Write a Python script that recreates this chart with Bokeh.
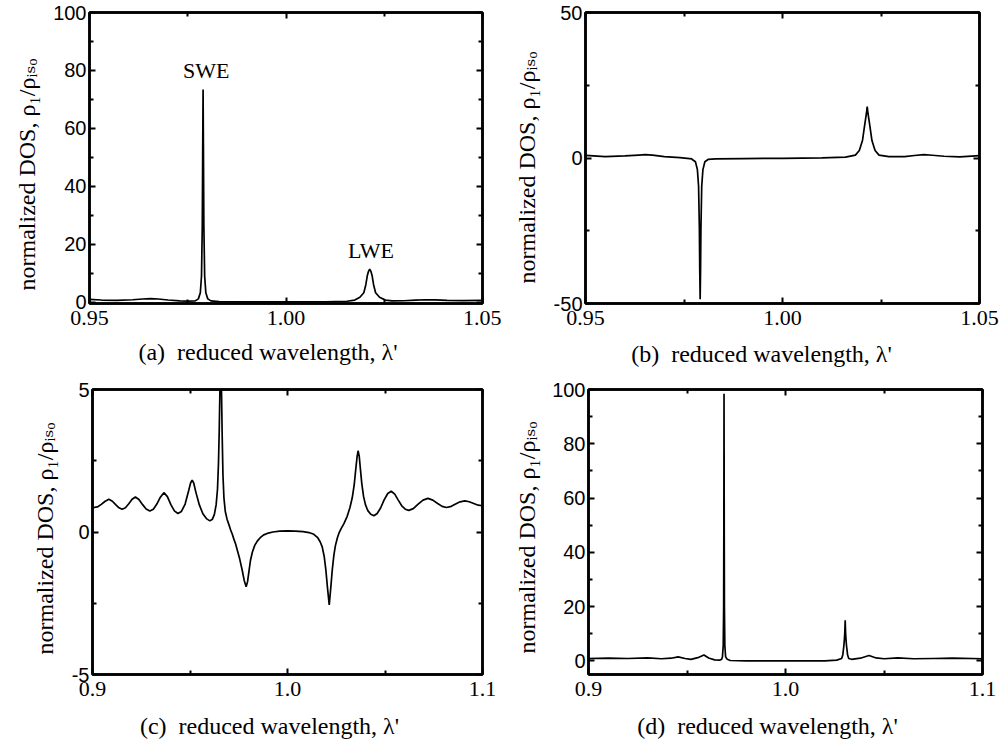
from bokeh.plotting import figure
from bokeh.layouts import column, row
from bokeh.models import Label, LinearAxis, FixedTicker, Range1d, NumeralTickFormatter, CustomJSTickFormatter, Title
from bokeh.embed import file_html
from bokeh.resources import INLINE

# ---------------- data ----------------
a_x = [0.950, 0.953, 0.957, 0.961, 0.9635, 0.9655, 0.9675, 0.970, 0.973, 0.975, 0.9769, 0.9777, 0.9782,
       0.9785, 0.9787, 0.9788, 0.9789, 0.9790, 0.9791, 0.9793, 0.9796, 0.9801, 0.9809, 0.983, 0.990,
       1.000, 1.010, 1.0155, 1.0175, 1.0188, 1.0198, 1.0203, 1.0207, 1.0210, 1.0213, 1.0216, 1.0219,
       1.0223, 1.0228, 1.0238, 1.0253, 1.027, 1.030, 1.033, 1.0355, 1.038, 1.041, 1.045, 1.050]
a_y = [0.9, 0.7, 0.55, 0.8, 1.05, 1.2, 1.05, 0.7, 0.4, 0.3, 0.4, 1.1, 3.2,
       9.0, 26.4, 50.8, 73.4, 50.8, 26.4, 9.0, 3.2, 1.1, 0.4, 0.15, 0.08,
       0.05, 0.1, 0.27, 0.67, 1.66, 3.2, 5.9, 9.2, 10.6, 11.4, 10.6, 9.2,
       5.9, 3.2, 1.66, 0.67, 0.4, 0.45, 0.65, 0.8, 0.75, 0.6, 0.5, 0.6]

b_x = [0.950, 0.955, 0.960, 0.9635, 0.9652, 0.967, 0.970, 0.974, 0.977, 0.9771, 0.9779, 0.9784, 0.9787,
       0.9789, 0.9790, 0.9791, 0.9792, 0.9793, 0.9795, 0.9798, 0.9803, 0.9811, 0.983, 0.990, 1.000,
       1.010, 1.016, 1.0185, 1.0195, 1.0203, 1.0208, 1.0211, 1.0213, 1.0215, 1.0217, 1.0219, 1.0222,
       1.0227, 1.0235, 1.0245, 1.027, 1.031, 1.0335, 1.0359, 1.038, 1.041, 1.045, 1.050]
b_y = [0.9, 0.5, 0.7, 1.0, 1.15, 1.0, 0.5, 0.1, -0.3, -0.5, -1.3, -4.0, -9.7,
       -24.0, -38.8, -48.5, -38.8, -24.0, -9.7, -4.0, -1.3, -0.5, -0.3, -0.2, -0.1,
       0.05, 0.3, 1.0, 2.6, 6.0, 10.8, 13.5, 15.3, 17.7, 15.3, 13.5, 10.8,
       6.0, 2.6, 1.0, 0.5, 0.5, 0.85, 1.15, 0.95, 0.6, 0.4, 0.8]

c_x = [0.9000, 0.9025, 0.9045, 0.9065, 0.9084, 0.9102, 0.9120, 0.9136, 0.9152, 0.9169, 0.9186, 0.9203,
       0.9220, 0.9238, 0.9257, 0.9275, 0.9294, 0.9312, 0.9330, 0.9348, 0.9366, 0.9384, 0.9402, 0.9420,
       0.9438, 0.9456, 0.9475, 0.9493, 0.9503, 0.9511, 0.9519, 0.9530, 0.9548, 0.9566, 0.9584, 0.9602,
       0.9615, 0.9625, 0.9634, 0.9641, 0.9646, 0.9650, 0.9654, 0.9657, 0.9661, 0.9665, 0.9669, 0.9674,
       0.9681, 0.9690, 0.9700, 0.9708, 0.9717, 0.9725, 0.9734, 0.9742, 0.9755, 0.9768, 0.9778, 0.9788,
       0.9795, 0.9802, 0.9810, 0.9820, 0.9832, 0.9845, 0.9860, 0.9878, 0.9896, 0.9925, 0.9960, 1.0000,
       1.0040, 1.0080, 1.0110, 1.0135, 1.0155, 1.0168, 1.0178, 1.0188, 1.0197, 1.0205, 1.0214, 1.0222,
       1.0230, 1.0238, 1.0246, 1.0256, 1.0265, 1.0275, 1.0290, 1.0306, 1.0320, 1.0332, 1.0342, 1.0350,
       1.0357, 1.0362, 1.0368, 1.0374, 1.0381, 1.0390, 1.0400, 1.0412, 1.0427, 1.0443, 1.0460, 1.0478,
       1.0495, 1.0514, 1.0532, 1.0550, 1.0568, 1.0586, 1.0604, 1.0622, 1.0645, 1.0670, 1.0695, 1.0720,
       1.0745, 1.0770, 1.0793, 1.0815, 1.0840, 1.0862, 1.0885, 1.0909, 1.0932, 1.0955, 1.0978, 1.1000]
c_y = [0.85, 0.88, 0.97, 1.08, 1.15, 1.08, 0.95, 0.85, 0.80, 0.85, 0.99, 1.15,
       1.23, 1.14, 0.96, 0.81, 0.74, 0.80, 0.98, 1.22, 1.38, 1.24, 0.96, 0.74,
       0.65, 0.72, 0.98, 1.45, 1.72, 1.82, 1.72, 1.40, 0.95, 0.64, 0.47, 0.39,
       0.45, 0.62, 0.95, 1.50, 2.40, 3.60, 5.20, 7.00, 5.20, 3.40, 2.00, 1.20,
       0.72, 0.45, 0.25, 0.08, -0.08, -0.25, -0.42, -0.62, -0.95, -1.35, -1.70, -1.92,
       -1.75, -1.40, -1.00, -0.70, -0.47, -0.32, -0.20, -0.10, -0.05, 0.00, 0.03, 0.04,
       0.03, 0.01, -0.02, -0.08, -0.20, -0.35, -0.52, -0.85, -1.35, -1.95, -2.56, -1.95,
       -1.30, -0.80, -0.47, -0.20, -0.02, 0.12, 0.30, 0.55, 0.85, 1.20, 1.65, 2.20,
       2.65, 2.85, 2.65, 2.20, 1.70, 1.25, 0.95, 0.75, 0.62, 0.57, 0.65, 0.85,
       1.12, 1.35, 1.43, 1.33, 1.12, 0.92, 0.80, 0.76, 0.82, 0.98, 1.12, 1.18,
       1.12, 1.00, 0.90, 0.86, 0.90, 0.98, 1.06, 1.09, 1.06, 1.00, 0.94, 0.92]

d_x = [0.900, 0.910, 0.920, 0.930, 0.937, 0.942, 0.9455, 0.949, 0.952, 0.9555, 0.9586, 0.961, 0.964,
       0.9668, 0.9676, 0.9680, 0.9684, 0.9686, 0.9687, 0.9688, 0.9689, 0.9690, 0.9692, 0.9696, 0.9704,
       0.972, 0.980, 1.000, 1.020, 1.026, 1.0285, 1.0291, 1.0296, 1.0299, 1.0301, 1.0303, 1.0305,
       1.0307, 1.0310, 1.0315, 1.0321, 1.0335, 1.038, 1.0424, 1.046, 1.050, 1.057, 1.065, 1.075,
       1.085, 1.100]
d_y = [0.9, 1.0, 0.9, 1.1, 0.8, 1.0, 1.5, 0.9, 0.6, 1.2, 2.2, 1.1, 0.4,
       0.3, 0.6, 1.5, 5.8, 19.7, 49.0, 98.4, 49.0, 19.7, 5.8, 1.5, 0.6,
       0.15, 0.02, 0.0, 0.05, 0.3, 0.9, 2.3, 5.4, 8.0, 10.4, 15.0, 10.4,
       8.0, 5.4, 2.3, 0.9, 0.6, 1.0, 2.0, 1.1, 0.8, 1.1, 0.8, 0.9,
       1.0, 0.8]

# axis settings
a_xr, a_yr = (0.95, 1.05), (-0.5, 100)
b_xr, b_yr = (0.95, 1.05), (-50, 50)
c_xr, c_yr = (0.9, 1.1), (-5, 5)
d_xr, d_yr = (0.9, 1.1), (-5, 100)
a_xt, a_xm = [0.95, 1.0, 1.05], [0.975, 1.025]
c_xt, c_xm = [0.9, 1.0, 1.1], [0.95, 1.05]
a_yt, a_ym = [0, 20, 40, 60, 80, 100], [10, 30, 50, 70, 90]
b_yt, b_ym = [-50, 0, 50], [-25, 25]
c_yt, c_ym = [-5, 0, 5], [-2.5, 2.5]
ytitle = "normalized DOS, \u03c1\u2081/\u03c1\u1d62\u209b\u2092"
captions = ["(a)\u00a0 reduced wavelength, \u03bb'", "(b)\u00a0 reduced wavelength, \u03bb'",
            "(c)\u00a0 reduced wavelength, \u03bb'", "(d)\u00a0 reduced wavelength, \u03bb'"]

SERIF = "Liberation Serif"
SERIF_LIST = "Liberation Serif, DejaVu Serif"
SANS = "Liberation Sans"
W, H = 501, 374


def style_axis(ax, labels=True):
    ax.major_tick_in = 6
    ax.major_tick_out = 0
    ax.minor_tick_in = 4
    ax.minor_tick_out = 0
    ax.axis_line_width = 2.5
    ax.axis_line_color = "black"
    ax.major_tick_line_width = 2
    ax.minor_tick_line_width = 2
    ax.major_tick_line_color = "black"
    ax.minor_tick_line_color = "black"
    if not labels:
        ax.formatter = CustomJSTickFormatter(code="return ''")
        ax.major_label_standoff = 0


def make(xs, ys, xr, yr, xt, xm, yt, ym, xfmt, borders, ylab, ctext, cpad, cstand):
    bl, br, bt, bb = borders
    p = figure(width=W, height=H, x_range=Range1d(*xr), y_range=Range1d(*yr),
               output_backend="svg", toolbar_location=None,
               min_border_left=bl, min_border_right=br, min_border_top=bt, min_border_bottom=bb)
    p.grid.visible = False
    p.outline_line_color = "black"
    p.outline_line_width = 2.5
    p.background_fill_color = "white"
    p.border_fill_color = "white"
    p.line(xs, ys, line_color="black", line_width=1.7)

    p.xaxis.ticker = FixedTicker(ticks=xt, minor_ticks=xm)
    p.xaxis.formatter = NumeralTickFormatter(format=xfmt)
    p.yaxis.ticker = FixedTicker(ticks=yt, minor_ticks=ym)
    p.yaxis.formatter = NumeralTickFormatter(format="0")
    for ax in p.xaxis:
        style_axis(ax)
        ax.major_label_text_font = SERIF
        ax.major_label_text_font_size = "22px"
        ax.major_label_standoff = 7
        ax.major_label_text_color = "black"
        # caption under the panel; trailing no-break spaces shift it left like the reference
        ax.axis_label = ctext + "\u00a0" * cpad
        ax.axis_label_text_font = SERIF
        ax.axis_label_text_font_size = "24px"
        ax.axis_label_text_font_style = "normal"
        ax.axis_label_text_color = "black"
        ax.axis_label_standoff = cstand
    for ax in p.yaxis:
        style_axis(ax)
        ax.major_label_text_font = SANS
        ax.major_label_text_font_size = "20px"
        ax.major_label_standoff = 3
        ax.major_label_text_color = "black"

    top = LinearAxis(ticker=FixedTicker(ticks=xt, minor_ticks=xm))
    style_axis(top, labels=False)
    p.add_layout(top, "above")
    right = LinearAxis(ticker=FixedTicker(ticks=yt, minor_ticks=ym))
    style_axis(right, labels=False)
    p.add_layout(right, "right")

    y_off, y_stand = ylab
    p.add_layout(Title(text=ytitle, align="left", offset=y_off, standoff=y_stand,
                       text_font=SERIF_LIST, text_font_size="24px", text_font_style="normal",
                       text_color="black"), "left")
    return p


pa = make(a_x, a_y, a_xr, a_yr, a_xt, a_xm, a_yt, a_ym, "0.00", (88, 19, 12, 71),
          (13, 22), captions[0], 6, 11)
pb = make(b_x, b_y, b_xr, b_yr, a_xt, a_xm, b_yt, b_ym, "0.00", (82, 23, 12, 70),
          (20, 21), captions[1], 7, 13)
pc = make(c_x, c_y, c_xr, c_yr, c_xt, c_xm, c_yt, c_ym, "0.0", (92, 19, 15, 70),
          (20, 22), captions[2], 6, 14)
pd_ = make(d_x, d_y, d_xr, d_yr, c_xt, c_xm, a_yt, a_ym, "0.0", (86, 20, 8, 74),
           (21, 20), captions[3], 6, 14)

pa.add_layout(Label(x=0.9797, y=80, text="SWE", text_font=SERIF, text_font_size="22px",
                    text_align="center", text_baseline="middle", text_color="black"))
pa.add_layout(Label(x=1.0216, y=17.9, text="LWE", text_font=SERIF, text_font_size="22px",
                    text_align="center", text_baseline="middle", text_color="black"))

layout = column(row(pa, pb), row(pc, pd_))
open("out.html", "w").write(file_html(layout, INLINE))
